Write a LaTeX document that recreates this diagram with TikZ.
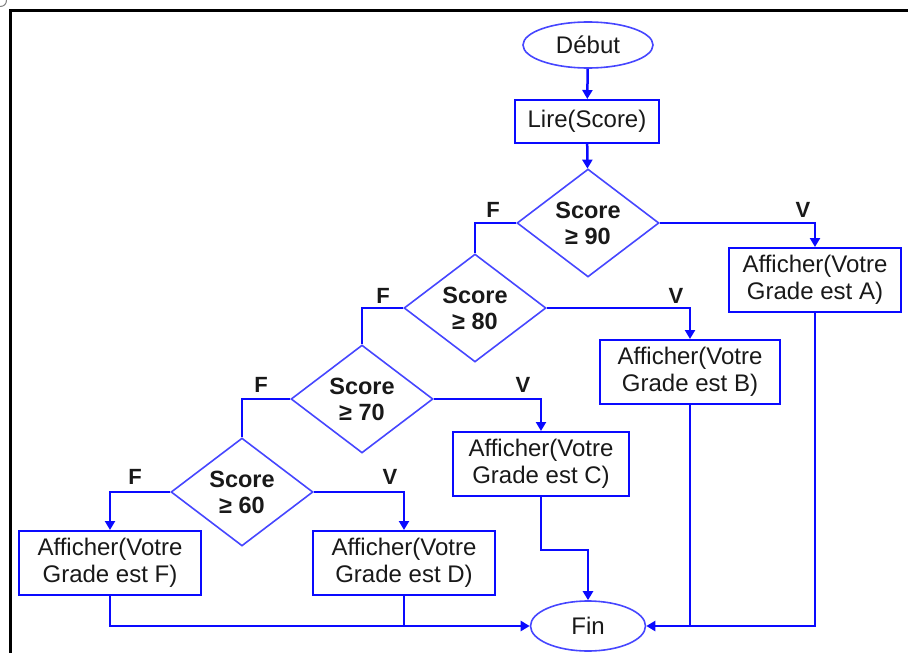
\documentclass[tikz,border=0pt]{standalone}
\usepackage{fontspec}
\setmainfont{Liberation Sans}
\usetikzlibrary{shapes.geometric,arrows.meta}
\definecolor{flowblue}{RGB}{10,10,255}
\definecolor{diamblue}{RGB}{70,70,255}
\definecolor{textgray}{RGB}{25,25,25}
\begin{document}
\begin{tikzpicture}[x=1pt,y=-1pt,
  conn/.style={draw=flowblue,line width=2.5pt},
  arr/.style={conn,-{Triangle[length=9pt,width=10pt]}},
  procbox/.style={draw=flowblue,line width=2pt,rectangle,minimum height=64pt,inner sep=0pt,align=center,text=textgray,font=\fontsize{24}{27}\selectfont},
  decision/.style={draw=diamblue,line width=1.6pt,diamond,minimum width=142pt,minimum height=105pt,inner sep=0pt,align=center,text=textgray,font=\bfseries\fontsize{23.5}{26}\selectfont},
  terminal/.style={draw=diamblue,line width=1.6pt,ellipse,inner sep=0pt,text=textgray,font=\fontsize{24}{27}\selectfont},
  lbl/.style={text=textgray,font=\bfseries\fontsize{22}{22}\selectfont}
]
\useasboundingbox (0,0) rectangle (908,653);
% frame
\draw[line width=3pt] (10.5,653) -- (10.5,10.5) -- (908,10.5);
\draw[gray,line width=1pt] (0,6.5) .. controls (4,6.5) and (6.5,4) .. (6.5,0);

% nodes
\node[terminal,minimum width=130pt,minimum height=46pt] (debut) at (588,45) {Début};
\node[procbox,minimum width=144pt,minimum height=43pt] (lire) at (587,121.5) {Lire(Score)};
\node[decision] (d1) at (588,223) {Score\\≥ 90};
\node[decision] (d2) at (475,308) {Score\\≥ 80};
\node[decision] (d3) at (362,399) {Score\\≥ 70};
\node[decision] (d4) at (242,492) {Score\\≥ 60};
\node[procbox,minimum width=172pt] (ba) at (815,280) {Afficher(Votre\\Grade est A)};
\node[procbox,minimum width=180pt] (bb) at (690,372) {Afficher(Votre\\Grade est B)};
\node[procbox,minimum width=176pt] (bc) at (541,464) {Afficher(Votre\\Grade est C)};
\node[procbox,minimum width=182pt] (bd) at (404,563) {Afficher(Votre\\Grade est D)};
\node[procbox,minimum width=182pt] (bf) at (110,563) {Afficher(Votre\\Grade est F)};
\node[terminal,minimum width=115pt,minimum height=50pt] (fin) at (588,626) {Fin};

% labels
\node[lbl] (v1) at (803,210) {V};
\node[lbl] (f1) at (493,210) {F};
\node[lbl] (v2) at (676,296) {V};
\node[lbl] (f2) at (383,296) {F};
\node[lbl] (v3) at (523,385) {V};
\node[lbl] (f3) at (261,385) {F};
\node[lbl] (v4) at (390,477) {V};
\node[lbl] (f4) at (135,477) {F};

% connectors
\draw[arr] (debut) -- (lire);
\draw[arr] (lire) -- (d1);
\draw[arr] (d1.east) -| (ba.north);
\draw[conn] (d1.west) -| (d2.north);
\draw[arr] (d2.east) -| (bb.north);
\draw[conn] (d2.west) -| (d3.north);
\draw[arr] (d3.east) -| (bc.north);
\draw[conn] (d3.west) -| (d4.north);
\draw[arr] (d4.east) -| (bd.north);
\draw[arr] (d4.west) -| (bf.north);

\draw[arr] (bf.south) |- (fin.west);
\draw[conn] (bd.south) -- (bd.south |- fin.west);
\draw[arr] (bc.south) -- ++(0,53) -| (fin.north);
\draw[arr] (bb.south) |- (fin.east);
\draw[conn] (ba.south) |- (bb.south |- fin.east);
\end{tikzpicture}
\end{document}
